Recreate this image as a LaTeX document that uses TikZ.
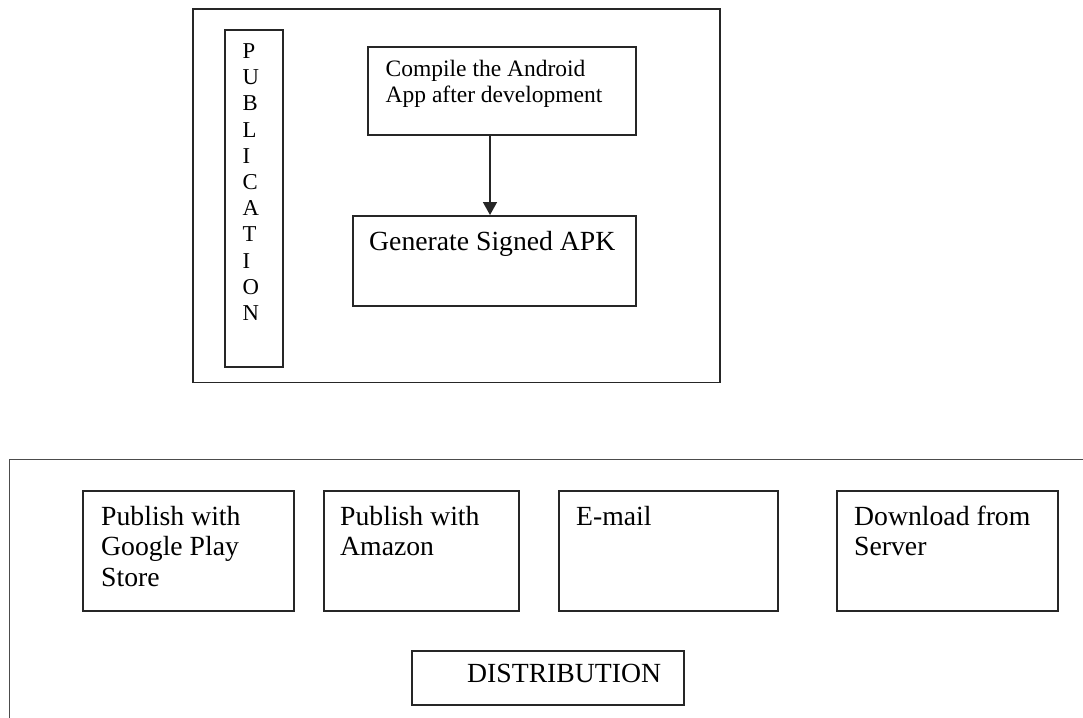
\documentclass[tikz,border=0pt]{standalone}
\usepackage{fontspec}
\setmainfont{Liberation Serif}
\usetikzlibrary{arrows.meta,calc}
\tikzset{
  boxline/.style={draw=black!85, line width=1.8pt},
  frameline/.style={draw=black!70, line width=1.4pt},
  bx/.style={boxline, rectangle, inner sep=0pt, anchor=north west},
  txt/.style={inner sep=0pt, anchor=base west, align=left},
  big/.style={font=\fontsize{27.7}{30.5}\selectfont},
  mid/.style={font=\fontsize{23.5}{25}\selectfont},
  vert/.style={font=\fontsize{22.7}{26.2}\selectfont},
}
\begin{document}
\begin{tikzpicture}[x=1pt,y=-1pt]
\useasboundingbox[fill=white] (0,0) rectangle (1083,717);
% Publication frame
\node[bx, minimum width=527pt, minimum height=373pt] (pubframe) at (192,8.5) {};
\node[bx, minimum width=58pt, minimum height=337pt] (pubcol) at (224,29) {};
% anchor base = baseline of last line
\node[txt, vert] (publabel) at ($(pubcol.north west)+(18.5,291.5)$) {P\\U\\B\\L\\I\\C\\A\\T\\I\\O\\N};
\node[bx, minimum width=268pt, minimum height=88pt] (compile) at (367,46) {};
\node[txt, mid] (compiletxt) at ($(compile.north west)+(18.5,56)$) {Compile the Android\\App after development};
\node[bx, minimum width=283pt, minimum height=90pt] (signed) at (352,215) {};
\node[txt, big] (signedtxt) at ($(signed.north west)+(17,35)$) {Generate Signed APK};
\draw[draw=black!85, line width=1.6pt, -{Triangle[width=14pt,length=13pt]}] (compile.south -| 490,0) -- (signed.north -| 490,0);
% Distribution frame (open to the right and bottom)
\coordinate (dtr) at (1095,459.5);
\coordinate (dtl) at (9.5,459.5);
\coordinate (dbl) at (9.5,730);
\draw[frameline] (dtr) -- (dtl) -- (dbl);
\node[bx, minimum width=211pt, minimum height=120pt] (google) at (82,490) {};
\node[txt, big] (googletxt) at ($(google.north west)+(19,96)$) {Publish with\\Google Play\\Store};
\node[bx, minimum width=195pt, minimum height=120pt] (amazon) at (323,490) {};
\node[txt, big] (amazontxt) at ($(amazon.north west)+(17,65.5)$) {Publish with\\Amazon};
\node[bx, minimum width=219pt, minimum height=120pt] (email) at (558,490) {};
\node[txt, big] (emailtxt) at ($(email.north west)+(18,35)$) {E-mail};
\node[bx, minimum width=221pt, minimum height=120pt] (server) at (836,490) {};
\node[txt, big] (servertxt) at ($(server.north west)+(18,65.5)$) {Download from\\Server};
\node[bx, minimum width=272pt, minimum height=54pt] (dist) at (411,650) {};
\node[txt, big] (disttxt) at ($(dist.north west)+(56,32)$) {DISTRIBUTION};
\end{tikzpicture}
\end{document}
